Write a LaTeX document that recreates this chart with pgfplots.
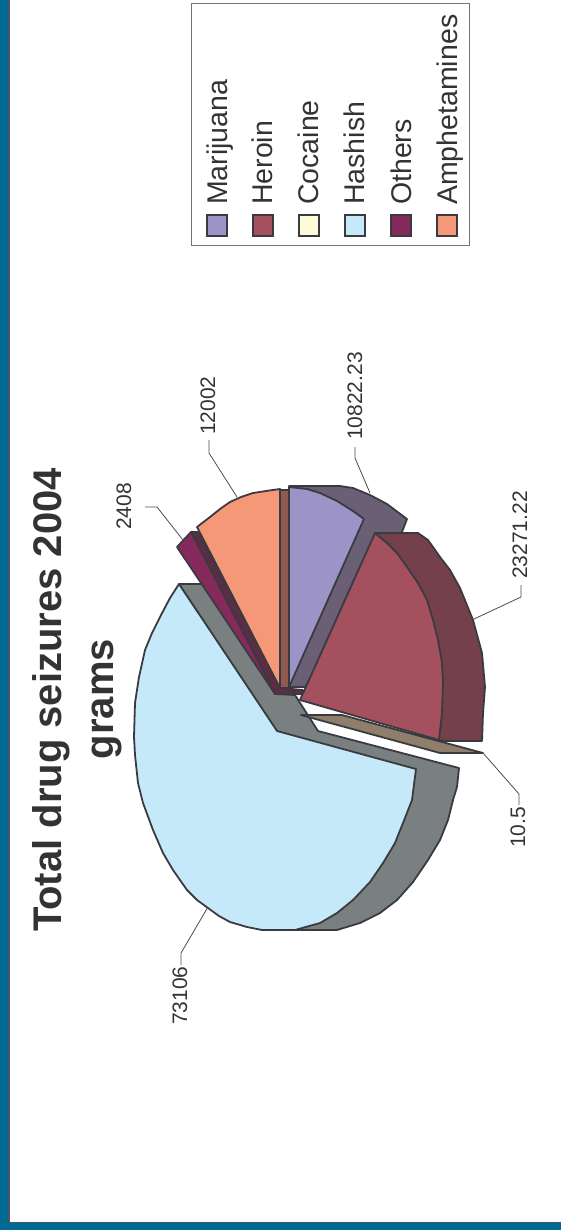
\documentclass[border=0pt]{standalone}
\usepackage{fontspec}
\setmainfont{Liberation Sans}
\usepackage{pgfplots}
\pgfplotsset{compat=1.18}

\definecolor{bgteal}{HTML}{006A94}
\definecolor{bgedge}{HTML}{4A5562}
\definecolor{edge}{HTML}{3A3A42}
\definecolor{mari}{HTML}{9C93C7}
\definecolor{mariside}{HTML}{6B5F75}
\definecolor{hero}{HTML}{A5505F}
\definecolor{heroside}{HTML}{744049}
\definecolor{coca}{HTML}{FFFBD6}
\definecolor{cocaside}{HTML}{8F7E6C}
\definecolor{hash}{HTML}{C6E9FA}
\definecolor{hashside}{HTML}{7A8080}
\definecolor{othe}{HTML}{852A5A}
\definecolor{otheside}{HTML}{5C2C42}
\definecolor{amph}{HTML}{F59877}
\definecolor{amphside}{HTML}{915A50}

\pgfplotsset{
	slice/.style={fill=#1, draw=edge, line width=1.8bp, line join=round, mark=none},
	leader/.style={draw=black!70, line width=0.8bp, mark=none},
	swatch/.style={fill=#1, draw=edge, line width=1.2pt, mark=none},
}

\begin{document}
\begin{tikzpicture}
	\begin{axis}[
		scale only axis,
		width=561bp,
		height=1230bp,
		xmin=0, xmax=561,
		ymin=0, ymax=1230,
		y dir=reverse,
		hide axis,
		]
	% page frame
	\addplot[fill=bgteal, draw=none, mark=none] coordinates {(0,0) (9,0) (9,1230) (0,1230)} --cycle;
	\addplot[fill=bgteal, draw=none, mark=none] coordinates {(0,1222) (561,1222) (561,1230) (0,1230)} --cycle;
	\addplot[draw=bgedge, line width=1.5pt, mark=none] coordinates {(9,0) (9,1222.5) (561,1222.5)};

	% legend
	\addplot[draw=black!55, line width=0.8pt, mark=none] coordinates {(191,3) (469,3) (469,245) (191,245)} --cycle;
	\addplot[swatch=mari] coordinates {(207,215) (227,215) (227,236) (207,236)} --cycle;
	\addplot[swatch=hero] coordinates {(253,215) (273,215) (273,236) (253,236)} --cycle;
	\addplot[swatch=coca] coordinates {(299,215) (319,215) (319,236) (299,236)} --cycle;
	\addplot[swatch=hash] coordinates {(345,215) (365,215) (365,236) (345,236)} --cycle;
	\addplot[swatch=othe] coordinates {(391,215) (411,215) (411,236) (391,236)} --cycle;
	\addplot[swatch=amph] coordinates {(437,215) (457,215) (457,236) (437,236)} --cycle;

	% Hashish side
	\addplot[slice=hashside] coordinates {
		(179,584) (202,584) (276,694) (295,695) (318,731) (459,768) (457,787) (453,800)
		(448,820) (440,840) (428,860) (413,882) (397,900) (380,913) (360,923) (337,930)
		(295,930) (277,731)
	} --cycle;
	% Hashish top
	\addplot[slice=hash] coordinates {
		(277,731) (179,584) (170,598) (160,617) (152,633) (145,650) (139,677) (135,703)
		(134,737) (135,755) (138,783) (143,803) (153,830) (163,853) (173,870) (187,890)
		(197,900) (208,908) (219,916) (230,922) (247,927) (262,930) (295,930) (320,923)
		(337,913) (353,900) (370,882) (383,863) (395,843) (403,823) (412,800) (416,769)
	} --cycle;

	% Others
	\addplot[slice=otheside] coordinates {(191,532) (198,532) (281,688) (303,690) (303,694) (275,694)} --cycle;
	\addplot[slice=othe] coordinates {(177,547) (191,532) (275,694)} --cycle;

	% Amphetamines
	\addplot[slice=amphside] coordinates {(280,490) (289,490) (289,688) (280,688)} --cycle;
	\addplot[slice=amph] coordinates {
		(280,688) (280,489) (266,491) (253,493) (241,497) (230,502) (220,509) (210,517) (197,527)
	} --cycle;

	% Marijuana
	\addplot[slice=mariside] coordinates {
		(289,486) (340,486) (353,488) (370,495) (387,504) (407,519) (402,532) (305,687) (289,687)
	} --cycle;
	\addplot[slice=mari] coordinates {
		(289,687) (289,487) (307,489) (320,493) (337,501) (353,511) (364,519)
	} --cycle;

	% Cocaine
	\addplot[slice=cocaside] coordinates {(301,715) (342,715) (483,753) (440,753)} --cycle;

	% Heroin
	\addplot[slice=heroside] coordinates {
		(375,533) (418,533) (428,540) (440,557) (450,570) (460,588) (473,620) (482,653)
		(485,687) (483,713) (482,741) (439,741)
	} --cycle;
	\addplot[slice=hero] coordinates {
		(300,700) (375,533) (387,543) (397,553) (407,567) (418,583) (427,600) (433,620)
		(438,640) (442,663) (443,683) (442,713) (439,740)
	} --cycle;

	% leader lines
	\addplot[leader] coordinates {(181,965) (181,953) (208,907)};
	\addplot[leader] coordinates {(145,507) (157,507) (183,540)};
	\addplot[leader] coordinates {(209,440) (209,453) (237,497)};
	\addplot[leader] coordinates {(355,447) (355,458) (370,493)};
	\addplot[leader] coordinates {(521,585) (521,597) (474,619)};
	\addplot[leader] coordinates {(519,805) (519,794) (483,753)};

	% legend entries
	\begin{scope}[every node/.style={rotate=90, anchor=base west, inner sep=0pt, text=black!80, font=\fontsize{28.5bp}{30bp}\selectfont}]
		\node at (axis cs:227,205) {Marijuana};
		\node at (axis cs:272,205) {Heroin};
		\node at (axis cs:318,205) {Cocaine};
		\node at (axis cs:364,205) {Hashish};
		\node at (axis cs:411,205) {Others};
		\node at (axis cs:457,205) {Amphetamines};
	\end{scope}

	% data labels
	\begin{scope}[every node/.style={rotate=90, anchor=base west, inner sep=0pt, text=black!80, font=\fontsize{21bp}{23bp}\selectfont}]
		\node at (axis cs:187,1025) {73106};
		\node at (axis cs:131,530) {2408};
		\node at (axis cs:215,435) {12002};
		\node at (axis cs:362,440) {10822.23};
		\node at (axis cs:527,579) {23271.22};
		\node at (axis cs:525,848) {10.5};
	\end{scope}

	% title
	\node[rotate=90, anchor=base, inner sep=0pt, text=black!80, font=\fontsize{40bp}{42bp}\bfseries] at (axis cs:61,700) {Total drug seizures 2004};
	\node[rotate=90, anchor=base, inner sep=0pt, text=black!80, font=\fontsize{40bp}{42bp}\bfseries] at (axis cs:113,699) {grams};
	\end{axis}
\end{tikzpicture}
\end{document}
